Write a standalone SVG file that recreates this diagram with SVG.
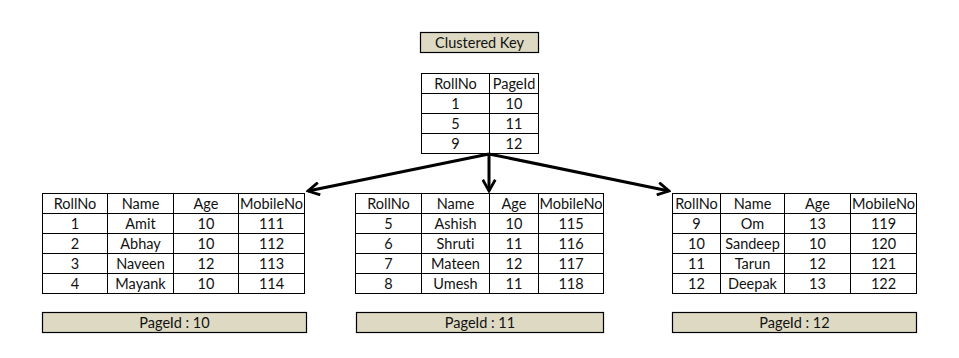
<svg xmlns="http://www.w3.org/2000/svg" width="959" height="358" viewBox="0 0 959 358">
<style>
.t{font-family:Lato,"Liberation Sans",sans-serif;font-size:14.5px;fill:#111;text-anchor:middle;font-variant-ligatures:none;font-feature-settings:"liga" 0}
.cell{fill:#fff;stroke:#000;stroke-width:1}
.g{stroke:#000;stroke-width:1;fill:none}
.bar{fill:#ddd9c3;stroke:#000;stroke-width:1.2}
.arr{stroke:#000;stroke-width:3;fill:none;marker-end:url(#ah)}
</style>
<defs>
<marker id="ah" viewBox="0 0 12 12" refX="10" refY="6" markerWidth="5" markerHeight="5" orient="auto" markerUnits="strokeWidth">
<path d="M1,1 L10,6 L1,11" fill="none" stroke="#000" stroke-width="2.2" stroke-linejoin="miter"/>
</marker>
</defs>
<rect width="959" height="358" fill="#fff"/>

<g id="clustered-key-label">
<rect class="bar" x="420.5" y="32.5" width="118" height="20"/>
<text class="t" x="479.5" y="47.5">Clustered Key</text>
</g>

<g id="index-table">
<rect class="cell" x="421.5" y="73.5" width="117" height="80"/>
<path class="g" d="M489.5,73.5V153.5M421.5,93.5H538.5M421.5,113.5H538.5M421.5,133.5H538.5"/>
<text class="t" x="455.5" y="88.5">RollNo</text><text class="t" x="514" y="88.5">PageId</text>
<text class="t" x="455.5" y="108.5">1</text><text class="t" x="514" y="108.5">10</text>
<text class="t" x="455.5" y="128.5">5</text><text class="t" x="514" y="128.5">11</text>
<text class="t" x="455.5" y="148.5">9</text><text class="t" x="514" y="148.5">12</text>
</g>

<g id="connectors">
<line class="arr" x1="489" y1="154" x2="308" y2="191"/>
<line class="arr" x1="489" y1="154" x2="489" y2="191"/>
<line class="arr" x1="489" y1="154" x2="669" y2="191"/>
</g>

<g id="page-10">
<rect class="cell" x="42.5" y="193.5" width="262" height="100"/>
<path class="g" d="M107.5,193.5V293.5M173.5,193.5V293.5M238.5,193.5V293.5M42.5,213.5H304.5M42.5,233.5H304.5M42.5,253.5H304.5M42.5,273.5H304.5"/>
<text class="t" x="75" y="208.5">RollNo</text><text class="t" x="140.5" y="208.5">Name</text><text class="t" x="206" y="208.5">Age</text><text class="t" x="271.5" y="208.5">MobileNo</text>
<text class="t" x="75" y="228.5">1</text><text class="t" x="140.5" y="228.5">Amit</text><text class="t" x="206" y="228.5">10</text><text class="t" x="271.5" y="228.5">111</text>
<text class="t" x="75" y="248.5">2</text><text class="t" x="140.5" y="248.5">Abhay</text><text class="t" x="206" y="248.5">10</text><text class="t" x="271.5" y="248.5">112</text>
<text class="t" x="75" y="268.5">3</text><text class="t" x="140.5" y="268.5">Naveen</text><text class="t" x="206" y="268.5">12</text><text class="t" x="271.5" y="268.5">113</text>
<text class="t" x="75" y="288.5">4</text><text class="t" x="140.5" y="288.5">Mayank</text><text class="t" x="206" y="288.5">10</text><text class="t" x="271.5" y="288.5">114</text>
<rect class="bar" x="42.5" y="312.5" width="264" height="20"/>
<text class="t" x="174.5" y="327.5">PageId : 10</text>
</g>

<g id="page-11">
<rect class="cell" x="355.5" y="193.5" width="248" height="100"/>
<path class="g" d="M421.5,193.5V293.5M489.5,193.5V293.5M538.5,193.5V293.5M355.5,213.5H603.5M355.5,233.5H603.5M355.5,253.5H603.5M355.5,273.5H603.5"/>
<text class="t" x="388.5" y="208.5">RollNo</text><text class="t" x="455.5" y="208.5">Name</text><text class="t" x="514" y="208.5">Age</text><text class="t" x="571" y="208.5">MobileNo</text>
<text class="t" x="388.5" y="228.5">5</text><text class="t" x="455.5" y="228.5">Ashish</text><text class="t" x="514" y="228.5">10</text><text class="t" x="571" y="228.5">115</text>
<text class="t" x="388.5" y="248.5">6</text><text class="t" x="455.5" y="248.5">Shruti</text><text class="t" x="514" y="248.5">11</text><text class="t" x="571" y="248.5">116</text>
<text class="t" x="388.5" y="268.5">7</text><text class="t" x="455.5" y="268.5">Mateen</text><text class="t" x="514" y="268.5">12</text><text class="t" x="571" y="268.5">117</text>
<text class="t" x="388.5" y="288.5">8</text><text class="t" x="455.5" y="288.5">Umesh</text><text class="t" x="514" y="288.5">11</text><text class="t" x="571" y="288.5">118</text>
<rect class="bar" x="356.5" y="312.5" width="247" height="20"/>
<text class="t" x="480" y="327.5">PageId : 11</text>
</g>

<g id="page-12">
<rect class="cell" x="672.5" y="193.5" width="244" height="100"/>
<path class="g" d="M720.5,193.5V293.5M784.5,193.5V293.5M850.5,193.5V293.5M672.5,213.5H916.5M672.5,233.5H916.5M672.5,253.5H916.5M672.5,273.5H916.5"/>
<text class="t" x="696.5" y="208.5">RollNo</text><text class="t" x="752.5" y="208.5">Name</text><text class="t" x="817.5" y="208.5">Age</text><text class="t" x="883.5" y="208.5">MobileNo</text>
<text class="t" x="696.5" y="228.5">9</text><text class="t" x="752.5" y="228.5">Om</text><text class="t" x="817.5" y="228.5">13</text><text class="t" x="883.5" y="228.5">119</text>
<text class="t" x="696.5" y="248.5">10</text><text class="t" x="752.5" y="248.5">Sandeep</text><text class="t" x="817.5" y="248.5">10</text><text class="t" x="883.5" y="248.5">120</text>
<text class="t" x="696.5" y="268.5">11</text><text class="t" x="752.5" y="268.5">Tarun</text><text class="t" x="817.5" y="268.5">12</text><text class="t" x="883.5" y="268.5">121</text>
<text class="t" x="696.5" y="288.5">12</text><text class="t" x="752.5" y="288.5">Deepak</text><text class="t" x="817.5" y="288.5">13</text><text class="t" x="883.5" y="288.5">122</text>
<rect class="bar" x="672.5" y="312.5" width="244" height="20"/>
<text class="t" x="794.5" y="327.5">PageId : 12</text>
</g>
</svg>
